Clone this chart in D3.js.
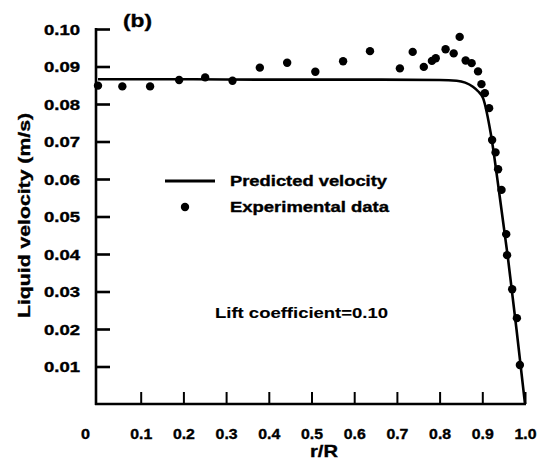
<!DOCTYPE html>
<html>
<head>
<meta charset="utf-8">
<script src="https://cdn.jsdelivr.net/npm/d3@7"></script>
<style>
  html, body { margin: 0; padding: 0; background: #fff; }
  svg text { font-family: "Liberation Sans", Arial, sans-serif; font-weight: bold; fill: #000; }
</style>
</head>
<body>
<div id="chart"></div>
<script>
// Radial position (r/R) and predicted liquid velocity (m/s)
const predR   = [0, 0.2, 0.4, 0.6, 0.8, 0.84, 0.86, 0.878, 0.89, 0.902, 0.92, 0.94, 0.96, 0.98, 1.0];
const predVel = [0.0866, 0.0866, 0.0865, 0.0865, 0.0864, 0.0862, 0.0857, 0.0846, 0.0834, 0.0815, 0.072, 0.056, 0.039, 0.020, 0.0];

// Measured liquid velocity
const expR   = [0.0, 0.057, 0.122, 0.19, 0.251, 0.315, 0.379, 0.443, 0.509, 0.574, 0.637, 0.707, 0.737, 0.763, 0.782, 0.791, 0.814, 0.833, 0.847, 0.861, 0.875, 0.890, 0.898, 0.906, 0.916, 0.923, 0.931, 0.937, 0.945, 0.956, 0.958, 0.970, 0.981, 0.988];
const expVel = [0.0849, 0.0847, 0.0847, 0.0864, 0.0871, 0.0862, 0.0897, 0.0910, 0.0886, 0.0914, 0.0941, 0.0895, 0.0939, 0.0899, 0.0915, 0.0922, 0.0946, 0.0935, 0.0979, 0.0916, 0.0909, 0.0887, 0.0853, 0.0829, 0.0789, 0.0704, 0.0671, 0.0626, 0.0571, 0.0453, 0.0397, 0.0306, 0.0229, 0.0104];

const xTicks = [0, 0.1, 0.2, 0.3, 0.4, 0.5, 0.6, 0.7, 0.8, 0.9, 1.0];
const yTicks = [0.01, 0.02, 0.03, 0.04, 0.05, 0.06, 0.07, 0.08, 0.09, 0.10];

const W = 537, H = 468;
const svg = d3.select("#chart").append("svg").attr("width", W).attr("height", H);

const x = d3.scaleLinear().domain([0, 1]).range([98, 525]);
const y = d3.scaleLinear().domain([0, 0.1]).range([404, 29]);

const axisStroke = 2.6;

// Wide, heavy lettering: stretch each string to a set width
function stretch(sel, len) {
  sel.attr("textLength", len).attr("lengthAdjust", "spacingAndGlyphs")
     .style("stroke", "#000").style("stroke-width", "0.35px");
  return sel;
}

// Y axis: line with inward ticks
const yAxis = d3.axisLeft(y).tickValues(yTicks).tickSize(-14).tickPadding(0)
  .tickFormat(d3.format(".2f"));
const gy = svg.append("g").attr("transform", `translate(${x(0) - 2},0)`).call(yAxis);
gy.select(".domain").remove();
gy.selectAll(".tick line").attr("stroke", "#000").attr("stroke-width", axisStroke);
gy.selectAll(".tick text").attr("x", -16).attr("dy", "0.38em")
  .style("font-size", "14px").attr("fill", "#000");
stretch(gy.selectAll(".tick text"), 36);
gy.append("line").attr("x1", 0).attr("x2", 0)
  .attr("y1", y(0.1) - 1).attr("y2", y(0) + 1)
  .attr("stroke", "#000").attr("stroke-width", axisStroke);

// X axis: line with upward ticks
const xAxis = d3.axisBottom(x).tickValues(xTicks).tickSize(-12).tickPadding(0)
  .tickFormat(d => d === 0 ? "0" : d3.format(".1f")(d));
const gx = svg.append("g").attr("transform", `translate(0,${y(0)})`).call(xAxis);
gx.select(".domain").remove();
gx.selectAll(".tick line").attr("stroke", "#000").attr("stroke-width", 2);
gx.selectAll(".tick").filter(d => d === 0).select("line").remove();
gx.selectAll(".tick text").attr("y", 35).attr("dy", 0)
  .style("font-size", "14px").attr("fill", "#000")
  .attr("x", d => d === 0 ? -13 : 0)
  .each(function (d) { stretch(d3.select(this), d === 0 ? 9 : 22); });
gx.append("line").attr("x1", x(0) - 3).attr("x2", x(1) + 1).attr("y1", 0).attr("y2", 0)
  .attr("stroke", "#000").attr("stroke-width", axisStroke);

// Predicted velocity curve
const line = d3.line().x(d => x(d[0])).y(d => y(d[1])).curve(d3.curveMonotoneX);
svg.append("path")
  .datum(predR.map((r, i) => [r, predVel[i]]))
  .attr("d", line)
  .attr("fill", "none").attr("stroke", "#000").attr("stroke-width", 2.6);

// Experimental points
svg.append("g").selectAll("circle")
  .data(expR.map((r, i) => [r, expVel[i]]))
  .join("circle")
  .attr("cx", d => x(d[0])).attr("cy", d => y(d[1])).attr("r", 4.2)
  .attr("fill", "#000");

// Legend
svg.append("line").attr("x1", 165).attr("x2", 215).attr("y1", 181).attr("y2", 181)
  .attr("stroke", "#000").attr("stroke-width", 2.8);
stretch(svg.append("text").attr("x", 230).attr("y", 186).style("font-size", "14px")
  .text("Predicted velocity"), 157);
svg.append("circle").attr("cx", 185).attr("cy", 207).attr("r", 4.2).attr("fill", "#000");
stretch(svg.append("text").attr("x", 230).attr("y", 212).style("font-size", "14px")
  .text("Experimental data"), 159);

stretch(svg.append("text").attr("x", 215).attr("y", 318).style("font-size", "14px")
  .text("Lift coefficient=0.10"), 173).style("stroke-width", "0.1px");

// Panel label and axis titles
stretch(svg.append("text").attr("x", 123).attr("y", 27)
  .style("font-size", "18px").text("(b)"), 29);
stretch(svg.append("text").attr("x", 310).attr("y", 457)
  .style("font-size", "17px").text("r/R"), 28);
stretch(svg.append("text").attr("transform", "translate(30,318) rotate(-90)")
  .style("font-size", "16px").text("Liquid velocity (m/s)"), 205);
</script>
</body>
</html>
